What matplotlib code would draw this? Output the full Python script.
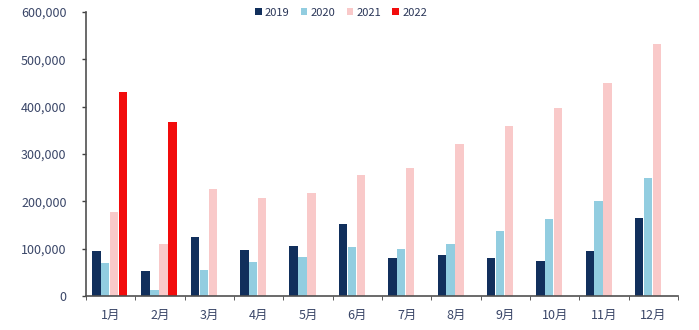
import numpy as np
from matplotlib import pyplot as plt
from matplotlib.ticker import FuncFormatter, FixedLocator

plt.rcParams['font.family'] = ['Noto Sans CJK SC', 'DejaVu Sans']

months = ['1月', '2月', '3月', '4月', '5月', '6月', '7月', '8月', '9月', '10月', '11月', '12月']
years = ['2019', '2020', '2021', '2022']
v2019 = [95000, 53000, 125000, 97000, 106000, 152000, 80000, 87000, 80000, 74000, 95000, 165000]
v2020 = [70000, 13000, 55000, 72000, 82000, 104000, 99000, 110000, 137000, 163000, 200000, 249000]
v2021 = [177000, 110000, 226000, 207000, 218000, 255000, 270000, 321000, 359000, 397000, 450000, 532000]
v2022 = [431000, 368000]
colors = ['#112f5c', '#92cde0', '#f9c9c9', '#f20c0c']

series = [v2019, v2020, v2021, v2022]

fig = plt.figure(figsize=(6.99, 3.3), dpi=100)
ax = fig.add_axes([0.123, 0.103, 0.847, 0.861])

x = np.arange(len(months))
w = 0.17
step = 0.18
for i, vals in enumerate(series):
    xs = x[:len(vals)] + (i - 1.5) * step - 0.02
    ax.bar(xs, vals, width=w, color=colors[i], label=years[i])

ax.set_xlim(-0.5, 11.5)
ax.set_ylim(0, 600000)
ax.set_yticks(range(0, 600001, 100000))
ax.yaxis.set_major_formatter(FuncFormatter(lambda v, p: f'{int(v):,}'))
ax.set_xticks(x)
ax.set_xticklabels(months)
ax.xaxis.set_minor_locator(FixedLocator(np.arange(-0.5, 12, 1)))
ax.tick_params(axis='x', which='major', length=0, pad=9, labelsize=9, labelcolor='#3a4668')
ax.tick_params(axis='x', which='minor', length=3, color='#404040', direction='out')
ax.tick_params(axis='y', length=3, width=1, color='#404040', labelsize=9, labelcolor='#3a4668', pad=11)

for s in ['top', 'right']:
    ax.spines[s].set_visible(False)
for s in ['left', 'bottom']:
    ax.spines[s].set_color('#505050')
    ax.spines[s].set_linewidth(1.2)

fig.legend(loc='center', bbox_to_anchor=(0.488, 0.962), ncol=4, frameon=False,
           fontsize=8, handlelength=0.6, handleheight=0.6, handletextpad=0.3,
           columnspacing=1.0, labelcolor='#2a3658')

plt.savefig('out.png', dpi=100)
